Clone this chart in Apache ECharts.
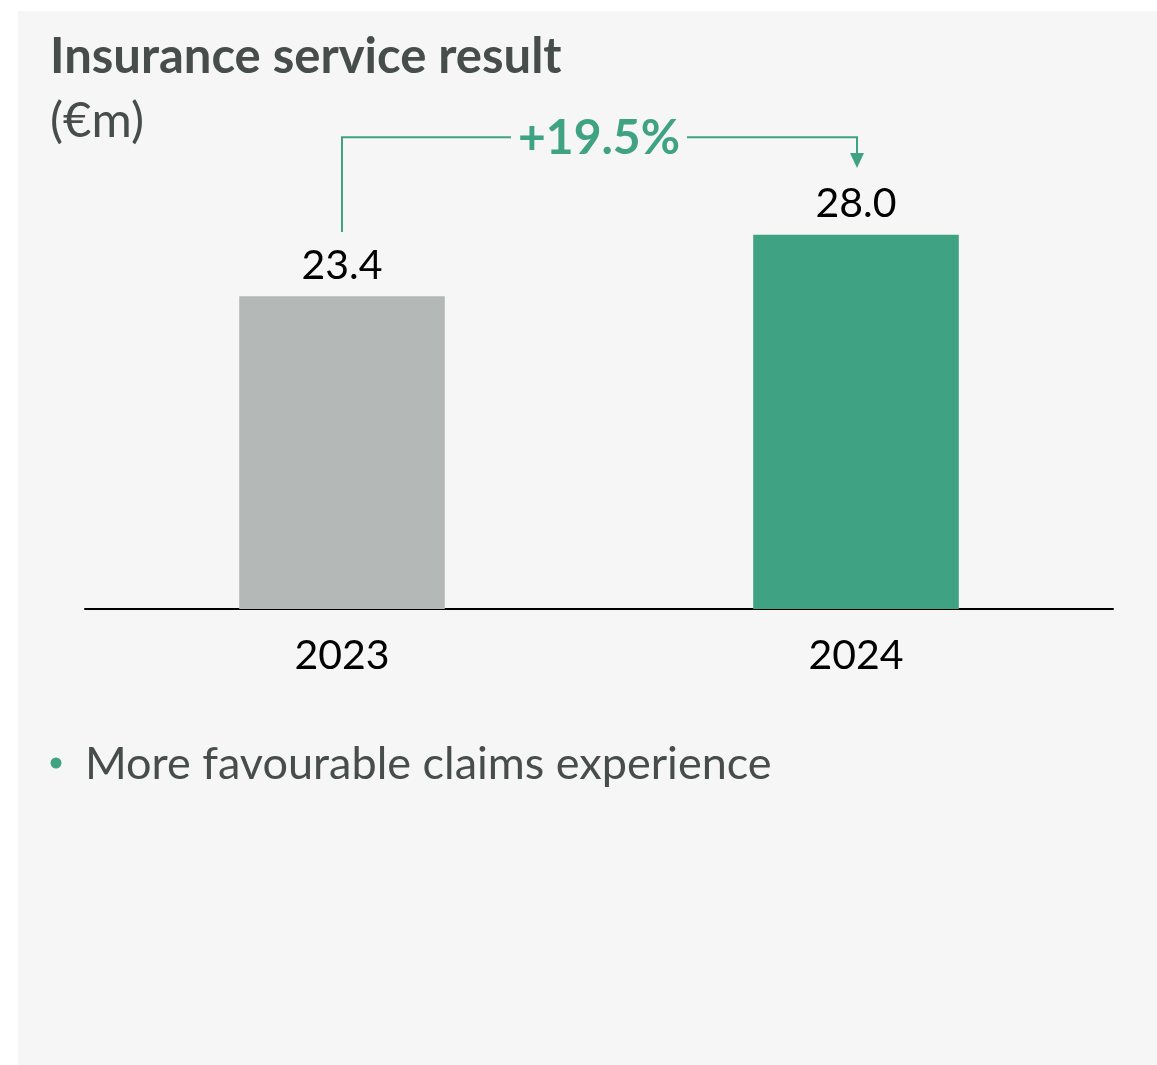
<!DOCTYPE html>
<html><head><meta charset="utf-8">
<script src="https://cdn.jsdelivr.net/npm/echarts@6/dist/echarts.min.js"></script>
<style>
html,body{margin:0;padding:0;background:#ffffff;}
#panel{position:absolute;left:18px;top:11px;width:1139px;height:1054px;background:#f6f6f6;}
#chart{position:absolute;left:0;top:0;width:1157px;height:1065px;}
</style></head>
<body>
<div id="panel"></div>
<div id="chart"></div>
<script>
const categories = ['2023', '2024'];
const values = [23.4, 28.0];
const barColors = ['#b4b9b8', '#3fa283'];
const changeLabel = '+19.5%';
const title = 'Insurance service result';
const unit = '(€m)';
const bullet = 'More favourable claims experience';

const FONT = 'Lato, "Noto Sans", sans-serif';
const chart = echarts.init(document.getElementById('chart'), null, {renderer: 'canvas'});
const option = {
  backgroundColor: 'transparent',
  animation: false,
  grid: {left: 85, right: 44, top: 208, bottom: 1065 - 609},
  xAxis: {
    type: 'category', data: categories,
    axisLine: {lineStyle: {color: '#000', width: 2}},
    axisTick: {show: false},
    axisLabel: {color: '#000', fontSize: 41, fontFamily: FONT, margin: 26}
  },
  yAxis: {type: 'value', min: 0, max: 30, show: false, splitLine: {show: false}},
  series: [{
    type: 'bar', barWidth: '40%',
    data: values.map((v, i) => ({value: v, itemStyle: {color: barColors[i]}})),
    label: {show: true, position: 'top', distance: 10, color: '#000', fontSize: 41, fontFamily: FONT,
      formatter: p => p.value.toFixed(1)}
  }],
  graphic: [
    {type: 'text', left: 50, top: 33, style: {text: title, fill: '#474d4b', fontFamily: FONT, fontSize: 49, fontWeight: 'bold'}},
    {type: 'text', left: 50, top: 97, style: {text: unit, fill: '#474d4b', fontFamily: FONT, fontSize: 49}},
    {type: 'circle', shape: {cx: 56, cy: 763, r: 5.5}, style: {fill: '#3fa283'}},
    {type: 'text', left: 85, top: 742, style: {text: bullet, fill: '#474d4b', fontFamily: FONT, fontSize: 45}}
  ]
};
chart.setOption(option);

// change annotation, positioned from data through the chart's scales
const p1 = chart.convertToPixel({seriesIndex: 0}, [0, 28.2]);
const p2 = chart.convertToPixel({seriesIndex: 0}, [1, 33.0]);
const topY = chart.convertToPixel({seriesIndex: 0}, [0, 35.3])[1];
const midX = (p1[0] + p2[0]) / 2;
const green = '#3fa283';
const halfGap = 88;
chart.setOption({graphic: option.graphic.concat([
  {type: 'polyline', shape: {points: [[p1[0], p1[1]], [p1[0], topY], [midX - halfGap, topY]]}, style: {stroke: green, lineWidth: 2, fill: null}},
  {type: 'polyline', shape: {points: [[midX + halfGap, topY], [p2[0] + 1, topY], [p2[0] + 1, p2[1] - 14]]}, style: {stroke: green, lineWidth: 2, fill: null}},
  {type: 'polygon', shape: {points: [[p2[0] - 6, p2[1] - 15], [p2[0] + 8, p2[1] - 15], [p2[0] + 1, p2[1]]]}, style: {fill: green}},
  {type: 'text', x: midX, y: topY + 1, style: {text: changeLabel, fill: green, fontFamily: FONT, fontSize: 48, fontWeight: 'bold', align: 'center', verticalAlign: 'middle'}}
])}, {replaceMerge: ['graphic']});
</script>
</body></html>
